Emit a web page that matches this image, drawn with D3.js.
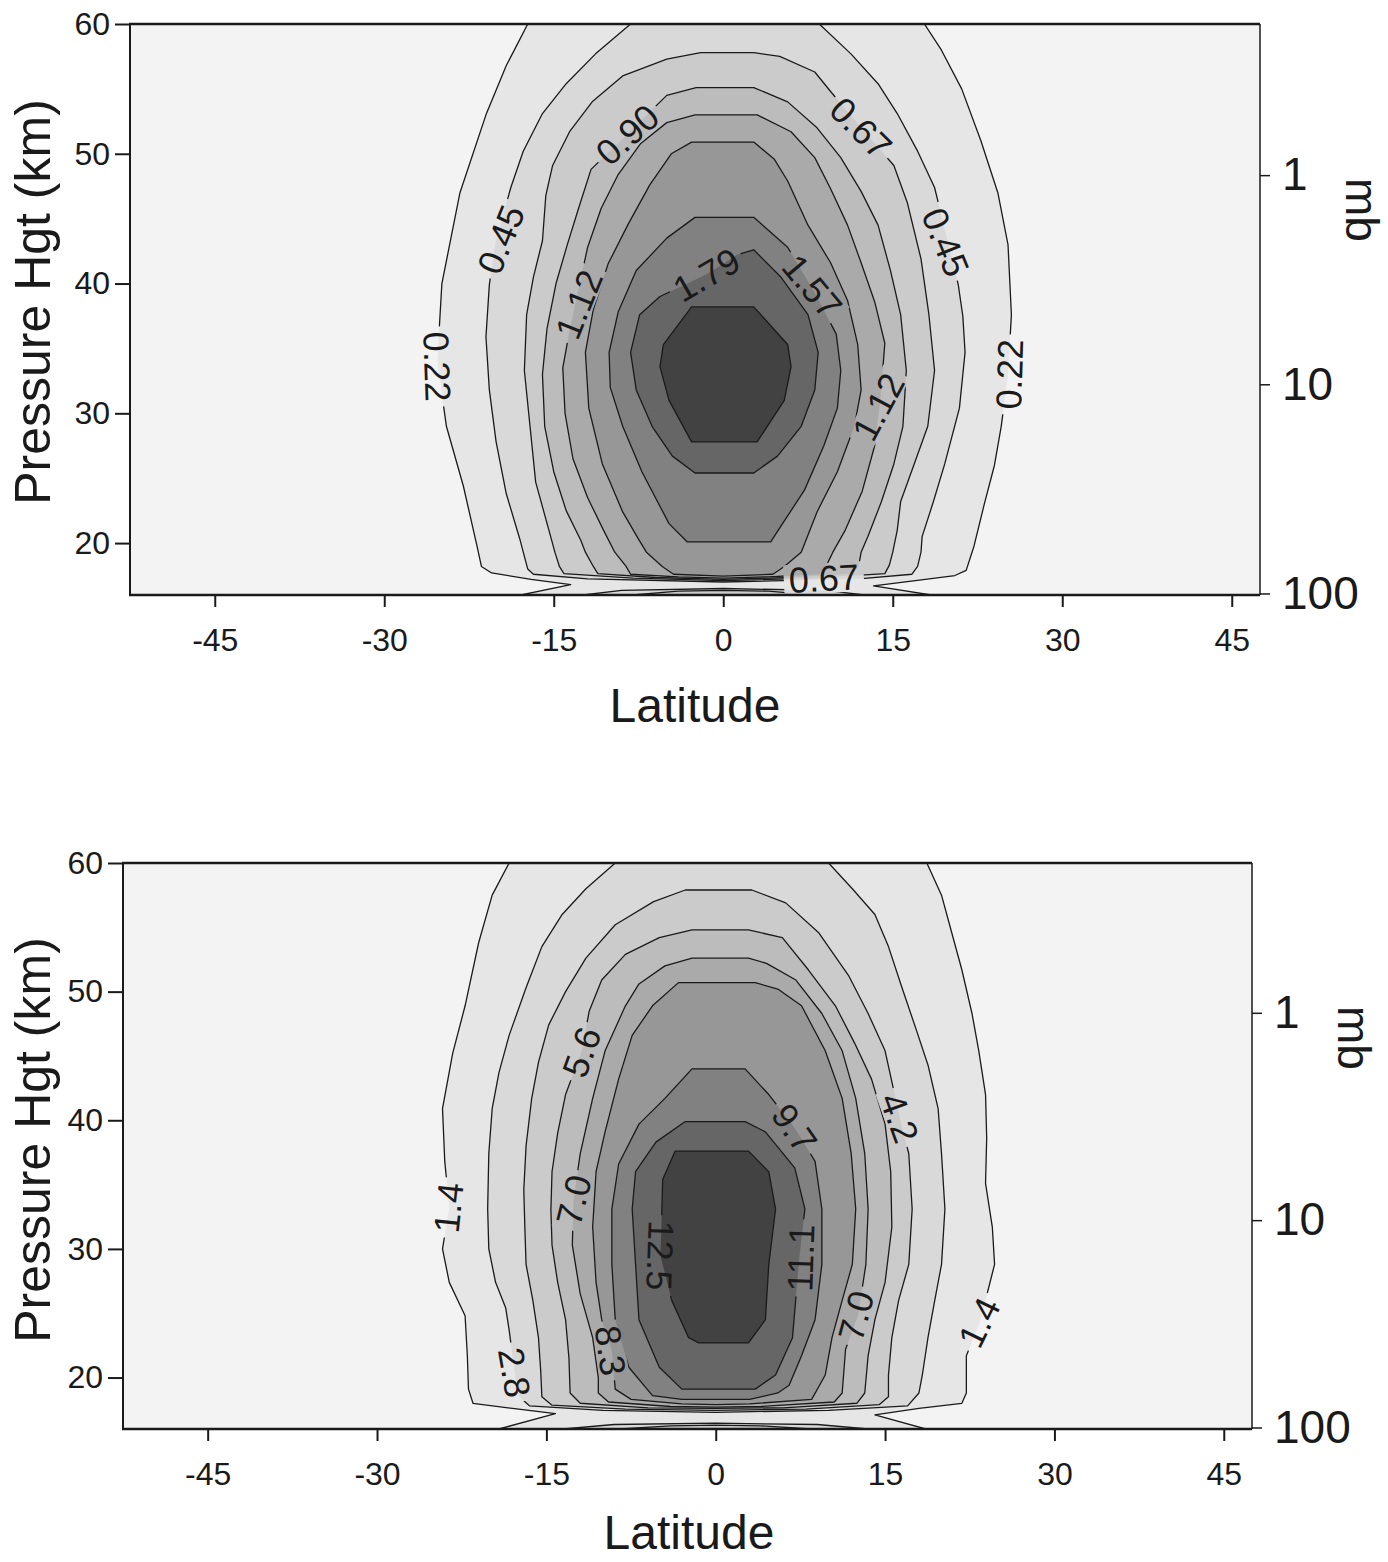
<!DOCTYPE html>
<html>
<head>
<meta charset="utf-8">
<title>Pressure height / latitude sections</title>
<script src="https://cdn.jsdelivr.net/npm/d3@7/dist/d3.min.js"></script>
<style>
  html, body { margin: 0; padding: 0; background: #fff; overflow: hidden; }
  svg { display: block; }
  svg text { font-family: "Liberation Sans", Arial, Helvetica, sans-serif; fill: #1a1a1a; }
</style>
</head>
<body>
<div id="chart"></div>
<script>
// ---- axes ----
var latDomain = [-52.5, 47.5];
var kmDomain = [16, 60];
var latTicks = [-45, -30, -15, 0, 15, 30, 45];
var kmTicks = [20, 30, 40, 50, 60];
var mbTicks = [1, 10, 100];
var scaleHeightKm = 7;     // z = H ln(p0 / p)
var surfaceMb = 1000;

// ---- upper panel: contour levels and outlines, [lat, km] ----
var topLevels = [0.22, 0.45, 0.67, 0.90, 1.12, 1.34, 1.57, 1.79, 2.01];

var top022 = [[-17.3,60],[-19.2,56.8],[-21.0,53.0],[-23.3,47.0],[-24.9,40.0],[-25.3,34.0],[-24.5,29.0],
  [-23.0,24.4],[-21.8,19.8],[-21.4,18.2],[-20.5,17.7],[-17.0,17.2],[-13.5,16.8],[-17.9,16.0],[18.4,16.0],
  [13.3,16.7],[17.0,17.1],[20.5,17.5],[21.5,17.9],[22.2,19.8],[23.1,23.0],[24.0,26.0],[24.6,29.0],
  [25.2,33.0],[25.5,37.6],[25.2,43.0],[24.3,47.0],[22.8,51.0],[21.1,55.0],[19.3,58.0],[17.8,60]];
var top045 = [[-8.2,60],[-11.3,57.7],[-13.9,55.4],[-16.0,53.1],[-17.7,50.2],[-18.8,47.4],[-20.2,43.0],
  [-20.7,39.9],[-21.0,35.9],[-20.7,31.8],[-20.1,27.8],[-19.2,23.8],[-18.0,20.3],[-17.7,19.3],[-17.3,18.0],
  [-16.8,17.6],[-12.0,17.25],[0,17.0],[12.0,17.25],[16.7,17.6],[17.2,18.2],[17.5,19.3],[17.6,20.5],
  [18.6,23.2],[19.6,26.1],[20.9,30.4],[21.4,34.7],[21.2,37.5],[20.8,39.9],[19.8,43.5],[18.7,47.4],
  [17.2,50.2],[15.4,53.1],[13.7,55.4],[11.3,57.7],[8.5,60]];
var top045Low = [[-12.4,16.0],[-9.0,16.35],[0,16.5],[9.0,16.35],[12.5,16.0]];
var top067 = [[-2.0,57.8],[-5.0,57.3],[-8.9,56.0],[-11.6,54.0],[-13.6,51.7],[-15.1,49.1],[-15.7,46.8],
  [-16.0,43.3],[-16.8,40.5],[-17.4,37.6],[-17.6,33.3],[-17.1,29.0],[-16.6,24.7],[-15.4,20.9],[-14.9,19.3],
  [-14.5,18.2],[-14.1,17.65],[-8.0,17.3],[0,17.1],[8.0,17.3],[14.3,17.65],[14.7,18.3],[15.0,19.3],
  [15.4,21.0],[15.7,23.2],[16.9,26.1],[18.1,29.0],[18.7,33.3],[18.2,37.6],[17.5,41.9],[16.3,46.2],
  [15.1,49.1],[12.2,52.0],[9.5,54.8],[8.1,56.3],[5.0,57.5],[2.7,57.8]];
var top067Low = [[-8.0,16.0],[-4.0,16.3],[0,16.35],[4.0,16.3],[8.0,16.0]];
var top090 = [[-2.4,55.1],[-5.0,54.5],[-8.5,51.5],[-11.7,48.8],[-12.8,45.8],[-13.8,43.0],[-14.8,40.0],
  [-15.6,36.5],[-16.0,33.0],[-15.8,29.0],[-15.0,25.5],[-13.9,22.5],[-12.6,20.2],[-12.2,19.3],[-11.5,18.2],
  [-11.1,17.65],[-6.0,17.35],[0,17.2],[6.0,17.35],[11.5,17.65],[12.0,18.3],[12.2,19.3],[12.8,20.5],
  [14.0,23.2],[15.1,26.1],[15.9,29.0],[16.2,33.3],[15.7,37.6],[14.8,41.0],[13.7,44.5],[12.2,47.1],
  [10.4,49.7],[8.3,52.0],[5.7,54.0],[2.7,55.1]];
var top112 = [[-2.5,53.0],[-5.0,52.4],[-7.3,50.8],[-9.3,48.4],[-10.8,45.8],[-12.0,42.8],[-12.8,39.6],
  [-13.6,36.4],[-14.2,33.5],[-14.0,30.0],[-13.3,26.5],[-12.0,23.5],[-10.6,21.0],[-9.6,19.3],[-8.6,18.2],
  [-8.2,17.6],[-4.0,17.4],[0,17.3],[4.0,17.4],[8.5,17.6],[9.2,18.4],[9.7,19.3],[10.8,21.0],[12.3,24.0],
  [13.4,27.5],[13.9,31.0],[14.3,35.4],[13.4,38.6],[12.2,41.6],[11.0,44.5],[9.5,47.3],[8.1,49.7],
  [6.0,51.7],[3.0,53.0]];
var top134 = [[-2.8,50.9],[-4.6,50.0],[-6.5,47.6],[-8.4,44.6],[-10.2,41.5],[-11.5,38.0],[-12.2,34.7],
  [-11.9,30.4],[-10.7,26.1],[-8.9,22.4],[-7.5,20.3],[-6.8,19.3],[-5.4,18.2],[-4.4,17.6],[0,17.45],
  [4.4,17.6],[5.4,18.2],[6.9,19.3],[8.3,22.4],[10.1,25.5],[11.6,29.0],[12.2,31.8],[11.9,35.3],[11.0,38.7],
  [9.5,41.6],[7.5,44.5],[5.7,47.9],[4.5,49.6],[2.7,50.9]];
var top157 = [[-2.5,45.1],[-5.0,43.5],[-7.7,41.0],[-9.3,37.8],[-10.1,34.7],[-10.0,32.0],[-8.9,29.0],
  [-7.2,25.5],[-4.8,21.5],[-3.2,20.1],[4.2,20.1],[4.8,20.9],[7.2,24.1],[8.9,27.5],[10.1,30.4],[10.4,33.3],
  [10.0,36.1],[8.1,39.3],[5.7,42.8],[2.7,45.1]];
var top179 = [[-5.6,39.0],[-1.5,40.7],[1.2,42.2],[2.7,42.6],[5.1,40.5],[7.5,37.6],[8.4,34.7],[8.1,31.8],
  [6.9,29.0],[4.8,26.7],[2.7,25.4],[-2.5,25.4],[-4.5,26.7],[-6.3,29.0],[-7.7,31.8],[-8.2,34.7],[-7.4,37.6]];
var top201 = [[-2.8,38.2],[-5.3,35.3],[-5.6,33.6],[-4.8,31.0],[-2.8,27.8],[3.0,27.8],[5.4,31.0],
  [6.0,33.6],[5.7,35.3],[2.7,38.2]];

var topContours = [[0.22, top022], [0.45, top045], [0.45, top045Low], [0.67, top067], [0.67, top067Low],
  [0.90, top090], [1.12, top112], [1.34, top134], [1.57, top157], [1.79, top179], [2.01, top201]];

// label anchors [value, lat, km] and their tilt (deg)
var topLabelSpots = [[0.90,-8.5,51.5],[0.67,12.2,52.0],[0.45,-19.7,43.4],[0.45,19.7,43.2],[1.12,-12.8,38.4],
  [1.79,-1.5,40.7],[1.57,7.9,39.8],[0.22,-25.3,33.6],[0.22,25.3,33.0],[1.12,13.7,30.5],[0.67,8.9,17.3]];
var topLabelTilt = [-42, 45, -68, 68, -68, -30, 50, 88, -88, -62, -3];

// ---- lower panel ----
var bottomLevels = [1.4, 2.8, 4.2, 5.6, 7.0, 8.3, 9.7, 11.1, 12.5];

var bot14 = [[-18.3,60],[-19.8,57.5],[-21.0,53.8],[-22.2,48.9],[-23.3,45.2],[-24.2,40.9],[-24.0,36.8],
  [-23.6,33.2],[-24.2,30.0],[-23.6,27.4],[-22.2,24.8],[-22.0,21.7],[-21.9,19.1],[-21.5,18.0],[-18.0,17.6],
  [-14.2,17.2],[-19.2,16.0],[18.6,16.0],[14.1,17.1],[18.0,17.6],[21.8,18.0],[22.2,18.8],[22.2,21.7],
  [23.4,24.3],[24.7,28.8],[24.5,31.7],[23.9,35.1],[24.0,38.6],[23.9,42.0],[23.3,45.4],[22.7,48.3],
  [21.8,51.7],[20.9,54.6],[20.0,57.5],[18.7,60]];
var bot28 = [[-8.9,60],[-11.5,58.0],[-13.6,56.0],[-15.4,53.5],[-16.8,50.3],[-18.3,46.6],[-19.2,43.7],
  [-19.8,40.9],[-20.1,37.4],[-20.2,33.1],[-20.1,30.0],[-19.5,27.4],[-18.6,25.4],[-18.3,23.7],[-17.8,20.4],
  [-17.4,18.5],[-16.5,17.8],[-10.0,17.45],[0,17.3],[10.0,17.45],[17.0,17.8],[18.0,18.8],[18.3,20.2],
  [18.8,23.1],[19.4,26.0],[20.0,28.8],[20.3,33.1],[20.0,37.4],[19.7,40.9],[18.8,44.3],[17.7,47.2],
  [16.5,50.3],[15.3,53.5],[14.1,56.0],[12.1,58.0],[10.0,60]];
var bot28Low = [[-13.5,16.0],[-9.0,16.35],[0,16.45],[9.0,16.35],[13.5,16.0]];
var bot42 = [[-2.7,57.9],[-5.5,57.0],[-8.9,55.2],[-11.5,52.6],[-13.3,50.0],[-14.8,47.4],[-15.7,44.5],
  [-16.3,41.7],[-16.8,38.0],[-17.0,34.6],[-16.9,31.5],[-16.8,28.8],[-16.2,26.0],[-15.7,23.1],[-15.5,20.5],
  [-15.4,18.5],[-14.5,17.85],[-8.0,17.55],[0,17.45],[8.0,17.55],[14.5,17.9],[15.3,18.5],[15.3,20.2],
  [15.6,23.1],[16.2,26.0],[17.1,28.8],[17.4,33.1],[17.1,37.4],[16.3,40.2],[15.0,45.4],[13.5,48.3],
  [11.8,51.2],[9.1,54.6],[6.2,56.9],[3.2,57.9]];
var bot42Low = [[-8.5,16.0],[-4.0,16.25],[0,16.3],[4.0,16.25],[8.5,16.0]];
var bot56 = [[-2.1,54.8],[-5.0,54.2],[-8.0,52.9],[-10.1,50.9],[-11.2,48.5],[-11.9,45.3],[-13.3,42.0],
  [-14.0,39.0],[-14.5,36.0],[-14.6,33.0],[-14.5,30.3],[-14.0,27.4],[-13.3,24.5],[-13.0,21.5],[-12.9,18.8],
  [-12.0,18.0],[-6.0,17.65],[0,17.6],[6.0,17.65],[12.5,18.0],[13.2,18.8],[13.5,21.7],[14.1,24.5],
  [15.0,27.4],[15.6,31.7],[15.5,36.0],[15.0,39.7],[13.8,43.2],[12.3,46.0],[10.6,48.9],[8.2,51.7],
  [5.9,54.2],[2.9,54.8]];
var bot70 = [[-2.1,52.6],[-4.5,52.0],[-6.8,50.6],[-8.0,48.9],[-9.8,45.4],[-10.9,41.7],[-12.0,37.4],
  [-12.6,33.8],[-12.7,30.3],[-12.0,26.5],[-10.9,23.1],[-10.4,20.0],[-10.4,18.8],[-9.5,18.1],[-4.0,17.75],
  [0,17.7],[4.0,17.75],[10.5,18.1],[11.2,18.8],[11.5,22.2],[12.6,24.8],[13.3,28.8],[13.5,33.1],
  [13.2,37.4],[12.4,41.7],[11.2,45.4],[9.4,48.3],[7.1,50.9],[4.5,52.2],[2.9,52.6]];
var bot83 = [[-3.3,50.7],[-5.6,48.9],[-7.4,46.6],[-8.6,43.2],[-9.8,39.1],[-10.6,36.0],[-10.9,31.7],
  [-10.6,27.4],[-10.1,24.5],[-9.2,22.1],[-8.9,19.1],[-7.5,18.3],[-3.0,17.95],[0,17.9],[3.0,17.95],
  [8.5,18.3],[9.7,20.2],[10.3,23.1],[11.2,26.0],[12.1,28.8],[12.4,33.1],[12.0,37.4],[11.2,41.7],
  [9.7,45.4],[7.6,48.9],[5.5,50.2],[3.5,50.7]];
var bot97 = [[-2.1,44.0],[-4.5,41.7],[-6.8,39.7],[-8.6,36.6],[-9.2,33.1],[-9.2,28.8],[-8.9,24.5],
  [-7.7,20.8],[-5.6,18.6],[-3.0,18.3],[3.0,18.3],[5.5,18.8],[6.5,19.4],[7.6,21.7],[8.8,24.5],[9.4,28.8],
  [9.4,33.1],[8.8,36.8],[7.0,39.4],[4.7,42.0],[2.6,44.0]];
var bot111 = [[-2.7,39.9],[-5.3,38.3],[-7.1,36.0],[-7.4,33.1],[-7.1,28.8],[-6.8,24.5],[-5.0,20.8],
  [-3.0,19.1],[3.5,19.1],[5.3,20.2],[6.8,23.1],[7.4,29.3],[7.9,33.1],[7.0,36.3],[4.4,39.1],[2.6,39.9]];
var bot125 = [[-3.6,37.6],[-4.7,35.4],[-4.8,32.0],[-4.9,29.5],[-3.9,26.0],[-2.4,23.1],[-1.5,22.7],
  [2.9,22.7],[4.4,24.5],[4.7,28.8],[5.3,33.1],[4.7,36.0],[2.9,37.6]];

var bottomContours = [[1.4, bot14], [2.8, bot28], [2.8, bot28Low], [4.2, bot42], [4.2, bot42Low],
  [5.6, bot56], [7.0, bot70], [8.3, bot83], [9.7, bot97], [11.1, bot111], [12.5, bot125]];

var bottomLabelSpots = [[5.6,-11.9,45.3],[4.2,16.3,40.2],[9.7,7.0,39.4],[1.4,-23.7,33.2],[7.0,-12.6,33.8],
  [12.5,-4.9,29.5],[11.1,7.5,29.3],[8.3,-9.3,22.1],[2.8,-17.8,20.4],[7.0,12.4,24.8],[1.4,23.3,24.3]];
var bottomLabelTilt = [-70, 70, 55, -84, -76, 92, -88, 82, 80, -75, -64];

// ---- styling ----
var bandGrays = ['#f3f3f3', '#e6e6e6', '#d9d9d9', '#cbcbcb', '#bcbcbc',
                 '#aaaaaa', '#979797', '#818181', '#666666', '#424242'];
var W = 1388, H = 1562;

var svg = d3.select('#chart').append('svg')
    .attr('width', W)
    .attr('height', H);

var defs = svg.append('defs');

var plainNumber = function (d) { return String(d); };

var buildPanel = function (p) {
  var x = d3.scaleLinear().domain(latDomain).range([p.left, p.right]);
  var y = d3.scaleLinear().domain(kmDomain).range([p.bottom, p.top]);
  var yP = d3.scaleLog()
      .domain(kmDomain.map(function (z) { return surfaceMb * Math.exp(-z / scaleHeightKm); }))
      .range([p.bottom, p.top]);
  var shade = d3.scaleThreshold().domain(p.levels).range(bandGrays);
  var outline = d3.line()
      .x(function (d) { return x(d[0]); })
      .y(function (d) { return y(d[1]); })
      .curve(d3.curveLinearClosed);

  defs.append('clipPath').attr('id', p.id + '-clip')
    .append('rect')
      .attr('x', p.left).attr('y', p.top)
      .attr('width', p.right - p.left).attr('height', p.bottom - p.top);

  var plot = svg.append('g').attr('clip-path', 'url(#' + p.id + '-clip)');

  plot.append('rect')
      .attr('x', p.left).attr('y', p.top)
      .attr('width', p.right - p.left).attr('height', p.bottom - p.top)
      .attr('fill', bandGrays[0]);

  // filled bands, outer levels first
  var shapes = p.contours.slice().sort(function (a, b) { return a[0] - b[0]; });

  plot.append('g').selectAll('path')
      .data(shapes)
    .enter().append('path')
      .attr('d', function (d) { return outline(d[1]); })
      .attr('fill', function (d) { return shade(d[0]); });

  // contour lines with gaps under the labels
  var mask = defs.append('mask').attr('id', p.id + '-mask')
      .attr('maskUnits', 'userSpaceOnUse')
      .attr('x', 0).attr('y', 0).attr('width', W).attr('height', H);
  mask.append('rect').attr('width', W).attr('height', H).attr('fill', '#fff');

  plot.append('g')
      .attr('mask', 'url(#' + p.id + '-mask)')
    .selectAll('path')
      .data(shapes)
    .enter().append('path')
      .attr('d', function (d) { return outline(d[1]); })
      .attr('fill', 'none')
      .attr('stroke', '#1a1a1a')
      .attr('stroke-width', 1.3)
      .attr('stroke-linejoin', 'round');

  var labels = svg.append('g')
      .style('font-size', '36px')
      .attr('text-anchor', 'middle');

  labels.selectAll('text')
      .data(p.labels)
    .enter().append('text')
      .attr('transform', function (d, i) {
        return 'translate(' + x(d[1]) + ',' + y(d[2]) + ') rotate(' + p.tilt[i] + ')';
      })
      .attr('dy', '0.36em')
      .text(function (d) { return p.fmt(d[0]); })
      .each(function (d, i) {
        var w = this.getComputedTextLength() + 10;
        mask.append('rect')
            .attr('transform', 'translate(' + x(d[1]) + ',' + y(d[2]) + ') rotate(' + p.tilt[i] + ')')
            .attr('x', -w / 2).attr('y', -15)
            .attr('width', w).attr('height', 30)
            .attr('fill', '#000');
      });

  // axes
  var styleAxis = function (g, size) {
    g.attr('color', '#1a1a1a').attr('font-size', null).attr('font-family', null);
    g.select('.domain').remove();
    g.selectAll('.tick line').attr('stroke-width', 2);
    g.selectAll('.tick text').style('font-size', size + 'px');
  };

  svg.append('g')
      .attr('transform', 'translate(0,' + p.bottom + ')')
      .call(d3.axisBottom(x).tickValues(latTicks).tickFormat(plainNumber)
        .tickSize(12).tickPadding(21).tickSizeOuter(0))
      .call(styleAxis, 32);

  svg.append('g')
      .attr('transform', 'translate(' + p.left + ',0)')
      .call(d3.axisLeft(y).tickValues(kmTicks).tickFormat(plainNumber)
        .tickSize(15).tickPadding(5).tickSizeOuter(0))
      .call(styleAxis, 32);

  svg.append('g')
      .attr('transform', 'translate(' + p.right + ',0)')
      .call(d3.axisRight(yP).tickValues(mbTicks).tickFormat(plainNumber)
        .tickSize(10).tickPadding(12).tickSizeOuter(0))
      .call(styleAxis, 46)
      .selectAll('.tick line').attr('stroke-width', 1.5);

  // frame
  var frame = svg.append('g').attr('stroke', '#1a1a1a').attr('fill', 'none');
  frame.append('line').attr('x1', p.left - 1).attr('x2', p.right).attr('y1', p.top).attr('y2', p.top)
      .attr('stroke-width', 2.5);
  frame.append('line').attr('x1', p.left - 1).attr('x2', p.right).attr('y1', p.bottom).attr('y2', p.bottom)
      .attr('stroke-width', 2.5);
  frame.append('line').attr('x1', p.left).attr('x2', p.left).attr('y1', p.top).attr('y2', p.bottom)
      .attr('stroke-width', 2);
  frame.append('line').attr('x1', p.right).attr('x2', p.right).attr('y1', p.top).attr('y2', p.bottom)
      .attr('stroke-width', 1.5);

  // titles
  svg.append('text')
      .attr('transform', 'translate(50,' + p.titleY + ') rotate(-90)')
      .attr('text-anchor', 'middle')
      .style('font-size', '50px')
      .text('Pressure Hgt (km)');

  svg.append('text')
      .attr('x', p.latX)
      .attr('y', p.latY)
      .attr('text-anchor', 'middle')
      .style('font-size', '48px')
      .text('Latitude');

  svg.append('text')
      .attr('transform', 'translate(' + p.mbX + ',' + p.mbY + ') rotate(90)')
      .attr('text-anchor', 'middle')
      .style('font-size', '46px')
      .text('mb');
};

buildPanel({
  id: 'upper', left: 130, right: 1260, top: 24, bottom: 595,
  levels: topLevels, contours: topContours, labels: topLabelSpots, tilt: topLabelTilt,
  fmt: d3.format('.2f'), titleY: 302, latX: 695, latY: 722, mbX: 1346, mbY: 210
});

buildPanel({
  id: 'lower', left: 123, right: 1252, top: 863, bottom: 1429,
  levels: bottomLevels, contours: bottomContours, labels: bottomLabelSpots, tilt: bottomLabelTilt,
  fmt: d3.format('.1f'), titleY: 1140, latX: 689, latY: 1549, mbX: 1338, mbY: 1038
});
</script>
</body>
</html>
